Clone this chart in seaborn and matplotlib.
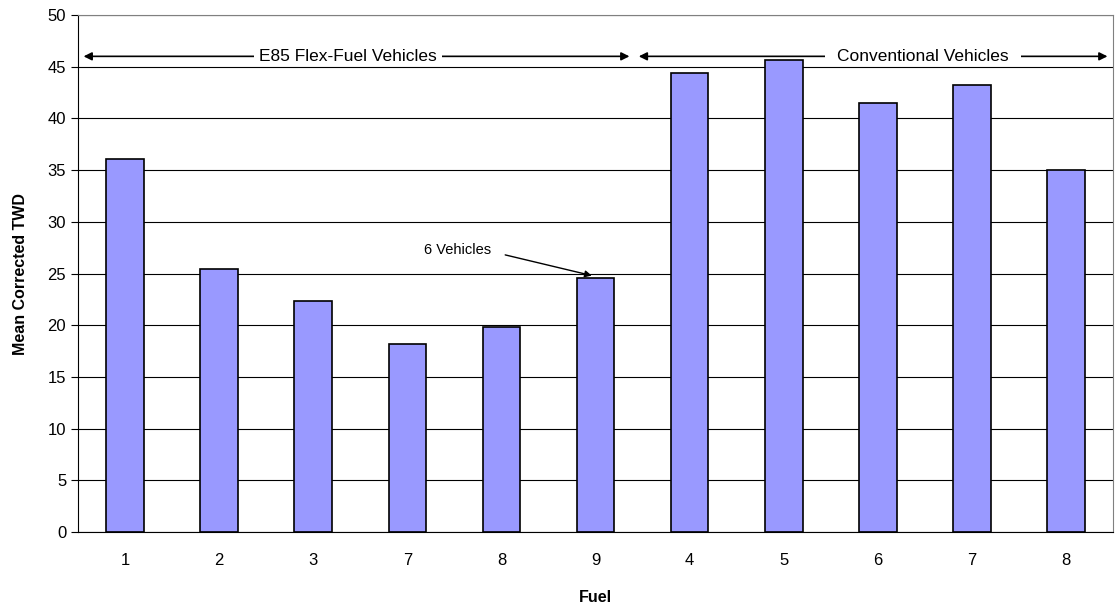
import seaborn as sns
import matplotlib.pyplot as plt
import pandas as pd

fuel_labels = ["1", "2", "3", "7", "8", "9", "4", "5", "6", "7", "8"]
mean_twd = [36.1, 25.4, 22.3, 18.2, 19.8, 24.6, 44.4, 45.6, 41.5, 43.2, 35.0]
groups = ["E85 Flex-Fuel Vehicles", "Conventional Vehicles"]

df = pd.DataFrame({"pos": range(len(mean_twd)), "twd": mean_twd})

sns.set_style("white")
plt.rcParams["font.family"] = ["Liberation Sans", "DejaVu Sans"]
plt.rcParams["text.color"] = "black"
plt.rcParams["axes.labelcolor"] = "black"
plt.rcParams["xtick.color"] = "black"
plt.rcParams["ytick.color"] = "black"

fig = plt.figure(figsize=(11.19, 6.09), dpi=100)
ax = fig.add_axes([0.0697, 0.1264, 0.925, 0.849])

sns.barplot(data=df, x="pos", y="twd", color="#9999ff", saturation=1,
            edgecolor="black", linewidth=1.2, width=0.4, ax=ax)

ax.set_xlim(-0.5, len(mean_twd) - 0.5)
ax.set_ylim(0, 50)
ax.set_yticks(range(0, 51, 5))
ax.yaxis.grid(True, color="black", linewidth=0.8)
ax.set_axisbelow(True)

# tick marks between categories, labels centred under the bars
ax.set_xticks([i for i in range(len(mean_twd))])
ax.set_xticklabels(fuel_labels)
ax.set_xticks([i - 0.5 for i in range(len(mean_twd) + 1)], minor=True)
ax.tick_params(axis="x", which="major", length=0, pad=15, labelsize=12)
ax.tick_params(axis="x", which="minor", length=5, direction="out", color="black")
ax.tick_params(axis="y", length=5, direction="out", color="black", labelsize=12, left=True)

for side in ["left", "bottom"]:
    ax.spines[side].set_color("black")
for side in ["top", "right"]:
    ax.spines[side].set_color("#808080")

ax.set_xlabel("Fuel", fontsize=11.5, fontweight="bold", labelpad=16)
ax.set_ylabel("Mean Corrected TWD", fontsize=11.5, fontweight="bold", labelpad=14)

# group arrows, kept under the gridlines so the 45 line stays unbroken
arrow = dict(arrowstyle="<|-|>", color="black", lw=1.2, mutation_scale=12)
ax.annotate("", xy=(-0.47, 46), xytext=(5.39, 46), arrowprops=arrow, zorder=0.3)
ax.annotate("", xy=(5.43, 46), xytext=(10.47, 46), arrowprops=arrow, zorder=0.3)
ax.text(2.37, 46, groups[0], ha="center", va="center", fontsize=12.5, zorder=0.4,
        bbox=dict(facecolor="white", edgecolor="none", pad=4))
ax.text(8.48, 46, groups[1], ha="center", va="center", fontsize=12.5, zorder=0.4,
        bbox=dict(facecolor="white", edgecolor="none", pad=9))

ax.text(3.53, 27.3, "6 Vehicles", ha="center", va="center", fontsize=10.5)
ax.annotate("", xy=(4.96, 24.8), xytext=(4.04, 26.8),
            arrowprops=dict(arrowstyle="-|>", color="black", lw=1,
                            mutation_scale=10, shrinkA=0, shrinkB=0))

fig.savefig("out.png", dpi=100)
